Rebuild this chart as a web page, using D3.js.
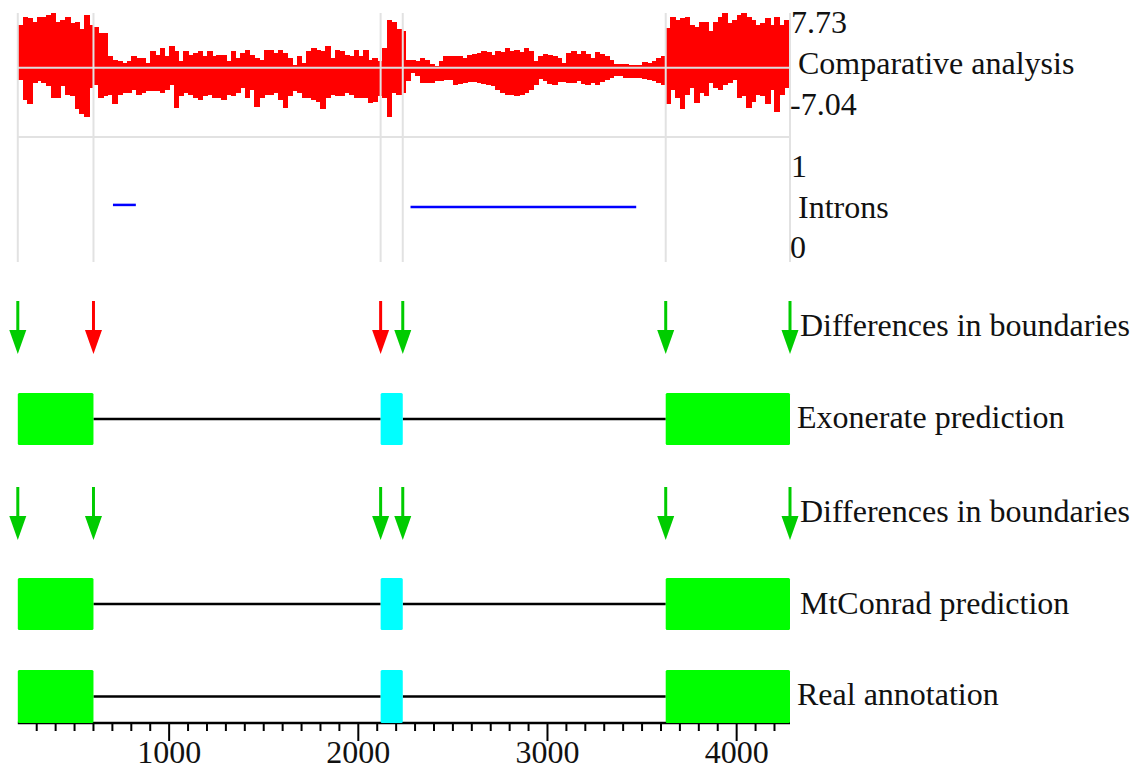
<!DOCTYPE html>
<html>
<head>
<meta charset="utf-8">
<script src="https://cdn.jsdelivr.net/npm/d3@7"></script>
<style>
  body { margin: 0; background: #fff; }
  svg text { font-family: "Liberation Serif", "Times New Roman", serif; font-size: 32px; fill: #111; }
</style>
</head>
<body>
<svg id="chart" width="1139" height="771"></svg>
<script>
// ---- data ----
var seqStart = 200, seqEnd = 4282;

// exon boundaries of the gene model (same in all three tracks)
var exonStart = [200, 2118, 3625];
var exonEnd   = [600, 2235, 4282];
var exonKind  = ['terminal', 'internal', 'terminal'];

// boundary checks: true = agrees with annotation
var boundaryPos = [200, 600, 2118, 2235, 3625, 4282];
var exonerateOk = [true, false, false, true, true, true];
var mtconradOk  = [true, true, true, true, true, true];

// intron predictions
var intronStart = [703, 2276];
var intronEnd   = [824, 3469];
var intronScore = [0.51, 0.49];

// comparative analysis score, one max/min pair every 25 bp from 200
var sigStep = 25;
var sigHi = [
  6.0, 7.2, 7.0, 6.5, 7.2, 7.2, 7.5, 7.7, 6.5, 6.8, 7.2, 6.3, 6.5, 5.4, 7.5, 6.0, 5.8, 4.9, 4.9, 1.6,
  1.1, 0.9, 0.7, 0.9, 1.6, 1.4, 1.4, 0.7, 2.3, 1.8, 2.8, 1.6, 3.0, 2.3, 0.9, 2.3, 1.8, 2.1, 2.3, 1.6,
  2.3, 1.6,
  1.8, 1.8, 0.9, 2.3, 1.4, 2.1, 2.5, 1.8, 1.4, 1.1, 2.5, 2.5, 2.1, 2.5, 2.1, 1.4, 0.4, 1.6, 0.7, 2.3,
  2.8, 2.5, 2.3, 3.0, 1.4, 2.5, 2.3, 1.8, 1.6, 2.5, 1.6, 2.5, 1.1, 1.4, 0.9, 2.8, 6.8, 6.5, 5.4, 5.2,
  1.1,
  1.1, 1.0, 1.4, 1.1, 0.5, 0.2, 1.0, 1.6, 1.6, 1.7, 1.6, 1.4, 1.8, 1.9, 2.1, 2.3, 2.2, 1.8, 2.3, 2.2,
  2.8, 2.4, 2.5, 2.2, 2.8, 2.4, 1.0, 1.7, 1.9, 1.8, 1.7, 1.3, 0.7, 2.1, 2.3, 1.9, 2.3, 1.9, 1.4, 2.2,
  2.0, 1.6, 1.1, 0.5, 0.5, 0.5, 0.4, 0.4, 0.4, 0.8, 0.7, 0.9, 1.4, 1.6, 5.6, 7.2, 6.8, 7.0, 7.2, 6.0,
  5.8, 6.5, 6.5, 5.2, 6.5, 7.2, 7.7, 6.3, 6.8, 7.5, 7.7, 7.2, 6.8, 6.0, 6.3, 7.0, 6.0, 7.2, 6.0, 6.8,
  6.3
];
var sigLo = [
  -1.8, -4.5, -5.2, -2.2, -1.9, -2.2, -2.6, -4.3, -4.3, -2.6, -3.8, -4.0, -5.9, -6.6, -6.9, -2.9, -2.4, -4.3, -4.0, -3.8,
  -5.2, -3.8, -3.6, -3.6, -3.1, -3.8, -3.6, -3.3, -3.3, -3.3, -3.6, -3.1, -2.4, -5.7, -4.0, -3.6, -3.8, -4.3, -4.5, -4.0,
  -3.8, -4.3,
  -4.3, -4.5, -3.8, -4.0, -3.6, -2.9, -4.3, -3.1, -5.5, -4.3, -3.8, -3.8, -3.6, -4.5, -5.7, -4.0, -3.3, -3.6, -4.3, -4.3,
  -4.5, -4.8, -5.9, -4.3, -3.8, -4.0, -4.0, -3.6, -3.8, -4.3, -4.3, -4.3, -5.0, -4.8, -4.0, -4.3, -6.9, -3.6, -3.8, -3.6,
  -1.9,
  -0.8, -1.2, -2.2, -2.2, -2.2, -1.9, -1.9, -1.7, -1.8, -2.4, -2.3, -2.2, -2.0, -2.0, -2.2, -2.3, -2.4, -2.6, -3.1, -3.6,
  -3.9, -3.9, -4.0, -3.9, -3.6, -3.1, -2.4, -1.6, -1.9, -2.3, -2.4, -2.0, -2.0, -2.2, -2.2, -1.9, -2.3, -2.4, -2.2, -2.4,
  -2.0, -1.7, -1.4, -1.2, -1.2, -1.5, -1.5, -1.5, -1.5, -1.6, -1.7, -1.9, -2.2, -2.4, -5.2, -3.1, -4.3, -5.9, -3.8, -2.9,
  -5.0, -3.6, -4.0, -2.2, -2.9, -3.1, -2.4, -2.2, -1.7, -4.3, -4.0, -5.7, -4.8, -3.8, -4.0, -5.2, -3.1, -6.2, -3.8, -2.9,
  -2.9
];
var sigMax = 7.73, sigMin = -7.04;

var majorTicks = [1000, 2000, 3000, 4000];

// ---- scales ----
var svg = d3.select('#chart');
var x = d3.scaleLinear().domain([seqStart, seqEnd]).range([17.8, 790]);
var ySig = d3.scaleLinear().domain([sigMin, sigMax]).range([117.5, 13]);
var yIntron = d3.scaleLinear().domain([0, 1]).range([260, 152]);

var exonColor = { terminal: '#00ff00', internal: '#00ffff' };
var green = '#00cc00', red = '#ff0000';

// ---- comparative analysis ----
var sig = sigHi.map(function (h, i) { return { pos: seqStart + i * sigStep, hi: h, lo: sigLo[i] } });

svg.append('g').selectAll('rect')
  .data(sig)
  .enter().append('rect')
  .attr('x', function (d) { return x(d.pos) })
  .attr('width', function (d) { return x(Math.min(d.pos + sigStep, seqEnd)) - x(d.pos) + 0.8 })
  .attr('y', function (d) { return ySig(d.hi) })
  .attr('height', function (d) { return ySig(d.lo) - ySig(d.hi) })
  .attr('fill', red)
  .attr('shape-rendering', 'crispEdges');

svg.append('line')
  .attr('x1', x(seqStart)).attr('x2', x(seqEnd))
  .attr('y1', ySig(0)).attr('y2', ySig(0))
  .attr('stroke', '#dddddd').attr('stroke-width', 2);

// panel grid
svg.append('line')
  .attr('x1', x(seqStart)).attr('x2', x(seqEnd))
  .attr('y1', 137).attr('y2', 137)
  .attr('stroke', '#e2e2e2').attr('stroke-width', 2);

svg.append('g').selectAll('line')
  .data(boundaryPos)
  .enter().append('line')
  .attr('x1', function (d) { return x(d) }).attr('x2', function (d) { return x(d) })
  .attr('y1', 13).attr('y2', 262)
  .attr('stroke', '#e2e2e2').attr('stroke-width', 2);

// ---- introns ----
svg.append('g').selectAll('line')
  .data(intronStart)
  .enter().append('line')
  .attr('x1', function (d) { return x(d) })
  .attr('x2', function (d, i) { return x(intronEnd[i]) })
  .attr('y1', function (d, i) { return yIntron(intronScore[i]) })
  .attr('y2', function (d, i) { return yIntron(intronScore[i]) })
  .attr('stroke', '#0000ff').attr('stroke-width', 2.5);

// ---- arrows ----
function drawArrows(top, tip, ok) {
  var g = svg.append('g');
  boundaryPos.forEach(function (p, i) {
    var c = ok[i] ? green : red;
    var cx = x(p);
    g.append('line')
      .attr('x1', cx).attr('x2', cx)
      .attr('y1', top).attr('y2', tip - 20)
      .attr('stroke', c).attr('stroke-width', 3);
    g.append('path')
      .attr('d', 'M' + (cx - 8.5) + ',' + (tip - 24) + 'L' + (cx + 8.5) + ',' + (tip - 24) + 'L' + cx + ',' + tip + 'Z')
      .attr('fill', c);
  });
}
drawArrows(301, 354, exonerateOk);
drawArrows(487, 540, mtconradOk);

// ---- gene tracks ----
function drawGene(top, h) {
  var g = svg.append('g');
  var mid = top + h / 2;
  for (var i = 0; i < exonStart.length - 1; i++) {
    g.append('line')
      .attr('x1', x(exonEnd[i])).attr('x2', x(exonStart[i + 1]))
      .attr('y1', mid).attr('y2', mid)
      .attr('stroke', '#000').attr('stroke-width', 2.5);
  }
  g.selectAll('rect')
    .data(exonStart)
    .enter().append('rect')
    .attr('x', function (d) { return x(d) })
    .attr('width', function (d, i) { return x(exonEnd[i]) - x(d) })
    .attr('y', top).attr('height', h)
    .attr('rx', 1.5)
    .attr('fill', function (d, i) { return exonColor[exonKind[i]] });
}

// ---- axis ----
var axisY = 723;
svg.append('line')
  .attr('x1', x(seqStart)).attr('x2', x(seqEnd))
  .attr('y1', axisY).attr('y2', axisY)
  .attr('stroke', '#000').attr('stroke-width', 2.5);

drawGene(393, 52);
drawGene(578, 52);
drawGene(670, 53);

var minor = d3.range(300, seqEnd, 100);
svg.append('g').selectAll('line')
  .data(minor)
  .enter().append('line')
  .attr('x1', function (d) { return x(d) }).attr('x2', function (d) { return x(d) })
  .attr('y1', axisY)
  .attr('y2', function (d) { return d % 1000 === 0 ? axisY + 18 : axisY + 8 })
  .attr('stroke', '#000').attr('stroke-width', 2);

svg.append('g').selectAll('text')
  .data(majorTicks)
  .enter().append('text')
  .attr('x', function (d) { return x(d) })
  .attr('y', 763)
  .attr('text-anchor', 'middle')
  .text(function (d) { return d });

// ---- labels ----
var labels = [
  ['7.73', 791, 33],
  ['Comparative analysis', 798, 74],
  ['-7.04', 790, 115],
  ['1', 791, 177],
  ['Introns', 798, 218],
  ['0', 790, 258],
  ['Differences in boundaries', 800, 336],
  ['Exonerate prediction', 797, 428],
  ['Differences in boundaries', 800, 522],
  ['MtConrad prediction', 800, 614],
  ['Real annotation', 797, 705]
];
svg.append('g').selectAll('text')
  .data(labels)
  .enter().append('text')
  .attr('x', function (d) { return d[1] })
  .attr('y', function (d) { return d[2] })
  .text(function (d) { return d[0] });
</script>
</body>
</html>
